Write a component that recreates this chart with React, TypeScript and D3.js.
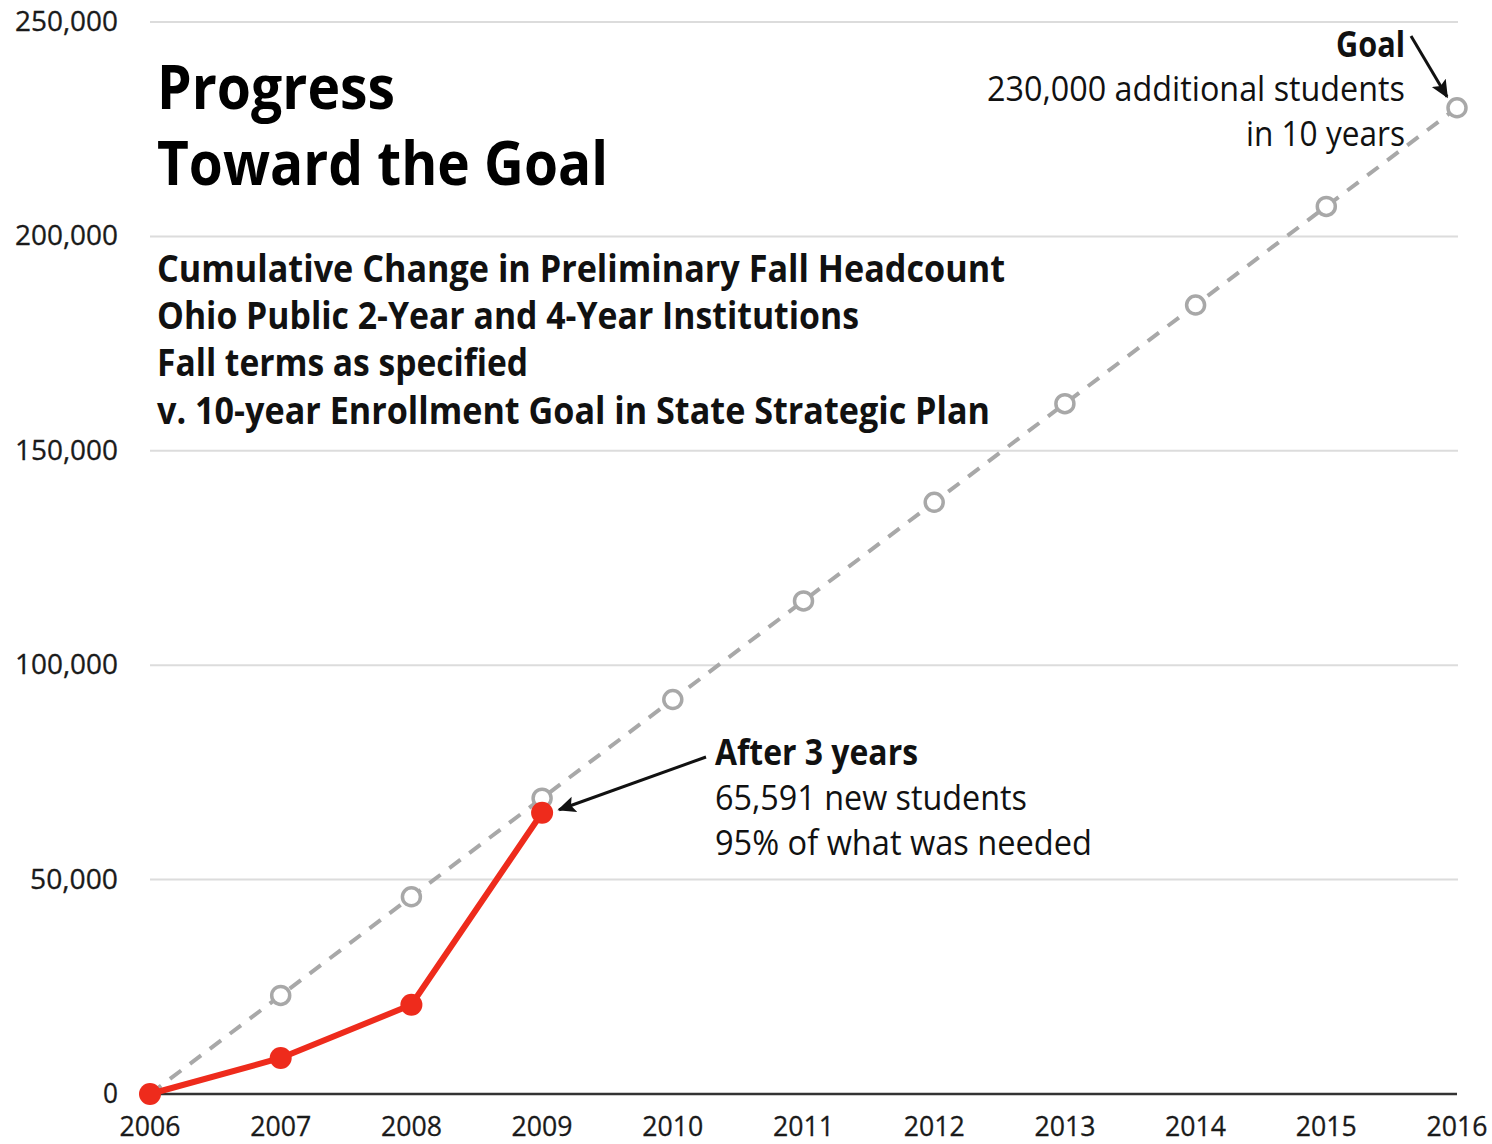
import React from "react";
import * as d3 from "d3";

const years = [2006, 2007, 2008, 2009, 2010, 2011, 2012, 2013, 2014, 2015, 2016];
const goalValues = [0, 23000, 46000, 69000, 92000, 115000, 138000, 161000, 184000, 207000, 230000];
const actualYears = [2006, 2007, 2008, 2009];
const actualValues = [0, 8400, 20800, 65591];
const yTicks = [0, 50000, 100000, 150000, 200000, 250000];

const titleLines = ["Progress", "Toward the Goal"];
const subtitleLines = [
  "Cumulative Change in Preliminary Fall Headcount",
  "Ohio Public 2-Year and 4-Year Institutions",
  "Fall terms as specified",
  "v. 10-year Enrollment Goal in State Strategic Plan",
];
const afterLines = ["After 3 years", "65,591 new students", "95% of what was needed"];
const goalLines = ["Goal", "230,000 additional students", "in 10 years"];

const W = 1492;
const H = 1144;
const FONT = "'Open Sans', 'Noto Sans', sans-serif";

export default function App() {
  const x = d3.scaleLinear().domain([2006, 2016]).range([150, 1457]);
  const y = d3.scaleLinear().domain([0, 250000]).range([1094, 22]);
  const fmt = d3.format(",");

  const goalLine = d3
    .line<number>()
    .x((_, i) => x(years[i]))
    .y((d) => y(d));
  const actualLine = d3
    .line<number>()
    .x((_, i) => x(actualYears[i]))
    .y((d) => y(d));

  const titleW = [238, 451];
  const subW = [848, 702, 371, 833];
  const subY = [282, 329, 376, 424];
  const afterW = [203, 312, 377];
  const afterY = [765, 810, 855];
  const goalW = [69, 418, 159];
  const goalY = [57, 101, 146];

  return (
    <svg
      width={W}
      height={H}
      style={{ position: "absolute", left: 0, top: 0, background: "#fff" }}
      fontFamily={FONT}
    >
      <defs>
        <marker id="arr" viewBox="0 0 10 10" refX="9" refY="5" markerWidth="6" markerHeight="6" orient="auto">
          <path d="M0,0.5 L10,5 L0,9.5 L2,5 Z" fill="#111" />
        </marker>
      </defs>
      {/* gridlines */}
      {yTicks.map((t) =>
        t === 0 ? null : (
          <line key={t} x1={150} x2={1458} y1={y(t)} y2={y(t)} stroke="#dcdcdc" strokeWidth={2} />
        )
      )}
      {/* y tick labels */}
      {yTicks.map((t) => {
        const s = fmt(t);
        return (
          <text
            key={"l" + t}
            x={118}
            y={y(t) + 9}
            textAnchor="end"
            fontSize={27}
            fill="#1a1a1a"
            stroke="#1a1a1a"
            strokeWidth={0.3}
            textLength={s.length === 1 ? 15 : s.length === 6 ? 88 : 103}
            lengthAdjust="spacingAndGlyphs"
          >
            {s}
          </text>
        );
      })}
      {/* x axis */}
      <line x1={150} x2={1457} y1={y(0)} y2={y(0)} stroke="#333" strokeWidth={2.5} />
      {years.map((yr) => (
        <text
          key={"x" + yr}
          x={x(yr)}
          y={1136}
          textAnchor="middle"
          fontSize={28}
          fill="#1a1a1a"
          stroke="#1a1a1a"
          strokeWidth={0.3}
          textLength={61}
          lengthAdjust="spacingAndGlyphs"
        >
          {yr}
        </text>
      ))}
      {/* title */}
      {titleLines.map((t, i) => (
        <text
          key={t}
          x={157}
          y={i === 0 ? 109 : 185}
          fontSize={60}
          fontWeight="bold"
          fill="#000"
          textLength={titleW[i]}
          lengthAdjust="spacingAndGlyphs"
        >
          {t}
        </text>
      ))}
      {subtitleLines.map((t, i) => (
        <text
          key={t}
          x={157}
          y={subY[i]}
          fontSize={37}
          fontWeight="bold"
          fill="#111"
          textLength={subW[i]}
          lengthAdjust="spacingAndGlyphs"
        >
          {t}
        </text>
      ))}
      {/* goal line */}
      <path
        d={goalLine(goalValues) || ""}
        fill="none"
        stroke="#a8a8a8"
        strokeWidth={4}
        strokeDasharray="14 11"
      />
      {goalValues.map((v, i) =>
        i === 0 ? null : (
          <circle key={"g" + i} cx={x(years[i])} cy={y(v)} r={9} fill="#fff" stroke="#a8a8a8" strokeWidth={3.5} />
        )
      )}
      {/* actual line */}
      <path d={actualLine(actualValues) || ""} fill="none" stroke="#ee2b1c" strokeWidth={6} strokeLinejoin="round" />
      {actualValues.map((v, i) => (
        <circle key={"a" + i} cx={x(actualYears[i])} cy={y(v)} r={11} fill="#ee2b1c" />
      ))}
      {/* After 3 years annotation */}
      {afterLines.map((t, i) => (
        <text
          key={t}
          x={715}
          y={afterY[i]}
          fontSize={35}
          fontWeight={i === 0 ? "bold" : "normal"}
          fill="#111"
          textLength={afterW[i]}
          lengthAdjust="spacingAndGlyphs"
        >
          {t}
        </text>
      ))}
      <line
        x1={706}
        y1={757}
        x2={x(2009) + 17}
        y2={y(65591) - 3}
        stroke="#111"
        strokeWidth={3}
        markerEnd="url(#arr)"
      />
      {/* Goal annotation */}
      {goalLines.map((t, i) => (
        <text
          key={t}
          x={1405}
          y={goalY[i]}
          textAnchor="end"
          fontSize={35}
          fontWeight={i === 0 ? "bold" : "normal"}
          fill="#111"
          textLength={goalW[i]}
          lengthAdjust="spacingAndGlyphs"
        >
          {t}
        </text>
      ))}
      <line
        x1={1411}
        y1={36}
        x2={x(2016) - 10}
        y2={y(230000) - 11}
        stroke="#111"
        strokeWidth={3}
        markerEnd="url(#arr)"
      />
    </svg>
  );
}
